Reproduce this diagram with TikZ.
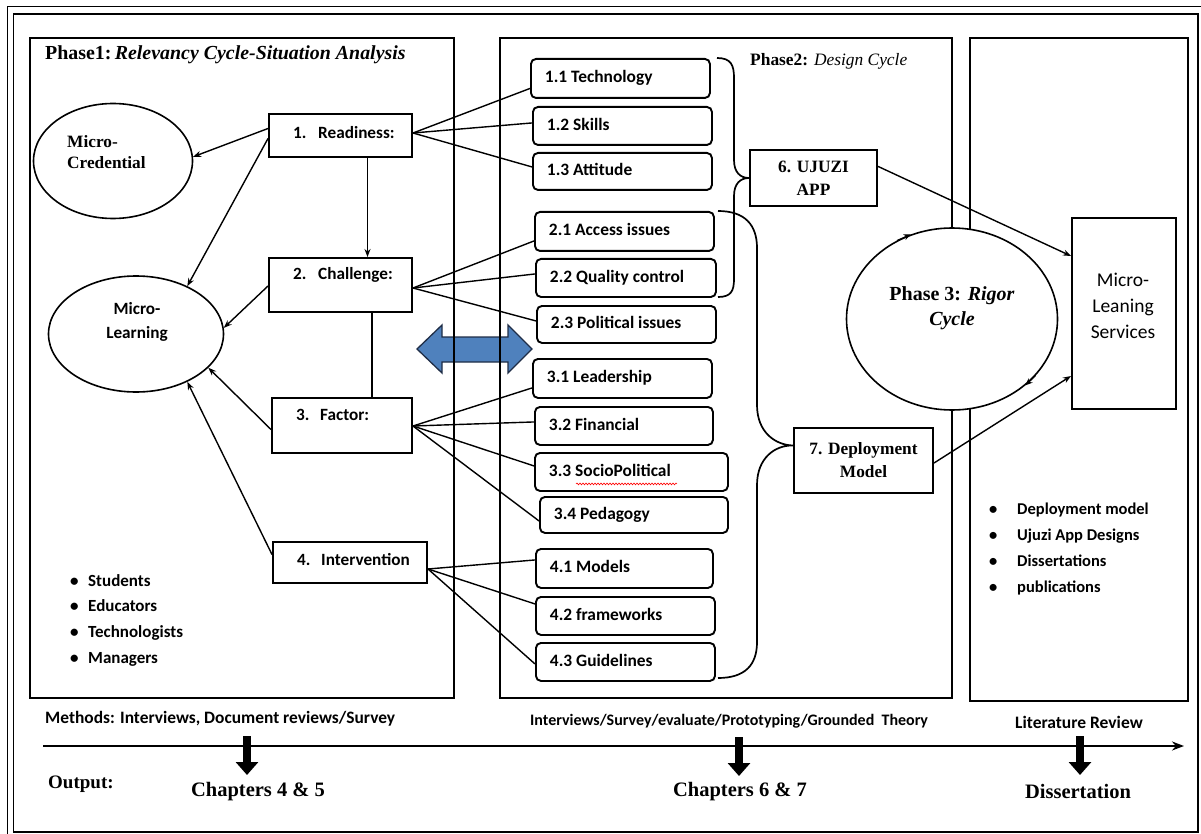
\documentclass[tikz,border=0pt]{standalone}
\usepackage{fontspec}
\setmainfont{Liberation Serif}
\newfontfamily\calib{Carlito}
\usetikzlibrary{arrows.meta,calc,shapes.geometric,decorations.pathmorphing}

% rounded sub-item box: name, x, y (top left), width, height, text
\newcommand\leaf[6]{%
  \node[leafbox, anchor=north west, minimum width=#4pt, minimum height=#5pt]
    (#1) at (#2,#3) {\makebox[\dimexpr#4pt-28pt\relax][l]{#6}};}

\begin{document}
\begin{tikzpicture}[x=1pt,y=-1pt,
  phasebox/.style={draw, line width=1.8pt, rectangle, inner sep=0pt, anchor=north west},
  stagebox/.style={draw, line width=2pt, rectangle, inner sep=0pt, anchor=north west},
  stagetext/.style={anchor=west, inner sep=0pt, font=\calib\bfseries\fontsize{17.2}{20}\selectfont},
  leafbox/.style={draw, line width=1.9pt, rounded corners=5pt, rectangle,
    inner xsep=14pt, inner ysep=0pt, text height=12.5pt, text depth=4pt,
    font=\calib\bfseries\fontsize{17.4}{20}\selectfont},
  serifbox/.style={draw, line width=2pt, rectangle, inner sep=0pt, align=center,
    font=\bfseries\fontsize{17.3}{23}\selectfont},
  oval/.style={draw, line width=1.6pt, ellipse, inner sep=0pt},
  link/.style={line width=1.4pt},
  arr/.style={line width=1.4pt, -{Stealth[length=8pt,width=6pt]}},
  brace/.style={line width=1.7pt},
  bullets/.style={anchor=north west, inner sep=0pt, align=left,
    font=\calib\bfseries\fontsize{17}{25.7}\selectfont},
  bigdown/.style={line width=8pt, -{Triangle[width=22pt,length=13pt]}},
  outtext/.style={inner sep=0pt, font=\bfseries\fontsize{20.5}{24}\selectfont},
]
\useasboundingbox (0,0) rectangle (1201,834);

% outer double frame
\draw[line width=1pt] (7,834) -- (7,7) -- (1201,7);
\draw[line width=1.6pt] (13.5,14) rectangle (1198,832);

% two-way exchange arrow between phase 1 and phase 2
\draw[fill={rgb,255:red,79;green,129;blue,189}, draw={rgb,255:red,31;green,45;blue,70}, line width=1.3pt, line join=miter]
  (417,349) -- (442,325) -- (442,337) -- (508,337) -- (508,325) -- (532,349)
  -- (508,373) -- (508,362) -- (442,362) -- (442,373) -- cycle;

% phase frames
\node[phasebox, minimum width=424pt, minimum height=660pt] (p1) at (29,37) {};
\node[phasebox, minimum width=452pt, minimum height=660pt] (p2) at (499,37) {};
\node[phasebox, minimum width=218pt, minimum height=663pt] (p3) at (969,37) {};

\node[anchor=west, inner sep=0pt, font=\bfseries\fontsize{19.9}{22}\selectfont] (t1) at (45,55)
  {Phase1:\,\textit{Relevancy Cycle-Situation Analysis}};
\node[anchor=west, inner sep=0pt, font=\fontsize{17.4}{20}\selectfont] (t2) at (750,61)
  {\textbf{Phase2:} \textit{Design Cycle}};

% phase 1: ellipses
\node[oval, minimum width=159pt, minimum height=115pt] (mc) at (113,161) {};
\node[anchor=west, inner sep=0pt, align=left, font=\bfseries\fontsize{17.3}{21}\selectfont] (mct) at (67,152) {Micro-\\Credential};
\node[oval, minimum width=175pt, minimum height=116pt] (ml) at (136,334) {};
\node[inner sep=0pt, align=center, font=\calib\bfseries\fontsize{17.2}{24}\selectfont] (mlt) at (137,322) {Micro-\\Learning};

% phase 1: stages
\node[stagebox, minimum width=143pt, minimum height=43pt] (rd) at (268,113) {};
\node[stagetext] (rdt) at (293,133) {\makebox[25pt][l]{1.}Readiness:};
\node[stagebox, minimum width=143pt, minimum height=54pt] (ch) at (268,257) {};
\node[stagetext] (cht) at (293,275) {\makebox[25pt][l]{2.}Challenge:};
\node[stagebox, minimum width=140pt, minimum height=55pt] (fa) at (271,397) {};
\node[stagetext] (fat) at (296,415) {\makebox[24pt][l]{3.}Factor:};
\node[stagebox, minimum width=154pt, minimum height=41pt] (iv) at (272,541) {};
\node[stagetext] (ivt) at (297,560) {\makebox[24pt][l]{4.}Intervention};

\draw[arr] ($(rd.south)+(27,0)$) -- ($(ch.north)+(27,0)$);
\draw[link] ($(ch.south)+(31.5,0)$) -- ($(fa.north)+(30,0)$);

\draw[arr] ($(rd.west)+(0,-7)$) -- (mc.3);
\draw[arr] ($(rd.west)+(0,3)$) -- (ml.43);
\draw[arr] ($(ch.west)+(0,1)$) -- (ml.4);
\draw[arr] ($(fa.west)+(0,4)$) -- (ml.-25);
\draw[arr] ($(iv.west)+(0,-8)$) -- (ml.-43);

\node[bullets] (who) at (70,574) {%
  \makebox[18pt][l]{\textbullet}Students\\
  \makebox[18pt][l]{\textbullet}Educators\\
  \makebox[18pt][l]{\textbullet}Technologists\\
  \makebox[18pt][l]{\textbullet}Managers};

% phase 2: sub-items
\leaf{t11}{530}{58}{179}{39}{1.1 Technology}
\leaf{t12}{532}{106}{179}{38}{1.2 Skills}
\leaf{t13}{532}{152}{179}{37}{1.3 Attitude}
\leaf{t21}{534}{211}{179}{39}{2.1 Access issues}
\leaf{t22}{535}{258}{180}{38}{2.2 Quality control}
\leaf{t23}{536}{305}{179}{37}{2.3 Political issues}
\leaf{t31}{532}{358}{179}{39}{3.1 Leadership}
\leaf{t32}{534}{406}{178}{38}{3.2 Financial}
\leaf{t33}{534}{452}{193}{38}{3.3 SocioPolitical}
\leaf{t34}{539}{496}{188}{36}{3.4 Pedagogy}
\leaf{t41}{535}{548}{177}{39}{4.1 Models}
\leaf{t42}{535}{596}{179}{38}{4.2 frameworks}
\leaf{t43}{535}{642}{179}{38}{4.3 Guidelines}

\draw[red, line width=0.6pt, decorate, decoration={snake, amplitude=0.9pt, segment length=3pt}]
  ($(t33.south west)+(42,-8)$) -- ($(t33.south west)+(143,-8)$);

\draw[link] ($(rd.east)+(0,-2.5)$) -- ($(t11.west)+(0,10)$);
\draw[link] ($(rd.east)+(0,-2.5)$) -- ($(t12.west)+(0,-3)$);
\draw[link] ($(rd.east)+(0,-2.5)$) -- ($(t13.west)+(0,-4.5)$);
\draw[link] ($(ch.east)+(0,3)$) -- ($(t21.west)+(0,9.5)$);
\draw[link] ($(ch.east)+(0,3)$) -- ($(t22.west)+(0,-4)$);
\draw[link] ($(ch.east)+(0,3)$) -- ($(t23.west)+(0,-3.5)$);
\draw[link] ($(fa.east)+(0,0.5)$) -- ($(t31.west)+(0,9.5)$);
\draw[link] ($(fa.east)+(0,0.5)$) -- ($(t32.west)+(0,-4)$);
\draw[link] ($(fa.east)+(0,0.5)$) -- ($(t33.west)+(0,-6)$);
\draw[link] ($(fa.east)+(0,0.5)$) -- ($(t34.west)+(0,6)$);
\draw[link] ($(iv.east)+(0,6.5)$) -- ($(t41.west)+(0,-8.5)$);
\draw[link] ($(iv.east)+(0,6.5)$) -- ($(t42.west)+(0,-12)$);
\draw[link] ($(iv.east)+(0,6.5)$) -- ($(t43.west)+(0,2)$);

% phase 2: outcomes
\node[serifbox, minimum width=127pt, minimum height=56pt] (uj) at (813.5,178) {6. UJUZI\\APP};
\node[serifbox, minimum width=139pt, minimum height=65pt] (dm) at (863.5,460.5) {7. Deployment\\Model};

\draw[brace] (717,58) .. controls (731,58) and (734,65) .. (734,78) -- (734,160)
  .. controls (734,172) and (740,178) .. (uj.west)
  .. controls (740,178) and (734,184) .. (734,196) -- (734,279)
  .. controls (734,291) and (731,297) .. (718,297);
\draw[brace] (718,211) .. controls (745,211) and (757,225) .. (757,248) -- (757,405)
  .. controls (757,432) and (775,445) .. ($(dm.west)+(0,-15)$)
  .. controls (775,445) and (757,458) .. (757,485) -- (757,642)
  .. controls (757,665) and (745,678) .. (718,678);

% phase 3
\node[oval, fill=white, minimum width=211pt, minimum height=182pt] (ph3) at (952,319) {};
\node[inner sep=0pt, align=center, font=\bfseries\fontsize{20}{25}\selectfont] (ph3t) at (952,308)
  {Phase 3: \textit{Rigor}\\\textit{Cycle}};
\draw[line width=1pt, -{Stealth[length=7pt,width=6pt]}] (ph3.125) -- (ph3.116);
\draw[line width=1pt, -{Stealth[length=7pt,width=6pt]}] (ph3.-34) -- (ph3.-42);

\node[stagebox, anchor=center, minimum width=104pt, minimum height=191pt] (svc) at (1124,313.5) {};
\node[inner sep=0pt, align=center, font=\calib\fontsize{19.5}{26}\selectfont] (svct) at (1123,306)
  {Micro-\\Leaning\\Services};

\draw[arr] ($(uj.north east)!0.3!(uj.south east)$) -- ($(svc.north west)+(0,39)$);
\draw[arr] ($(dm.east)+(0,2.5)$) -- ($(svc.north west)+(0,159)$);

\node[bullets, font=\calib\bfseries\fontsize{16.5}{26}\selectfont] (deliv) at (989,503) {%
  \makebox[28pt][l]{\textbullet}Deployment model\\
  \makebox[28pt][l]{\textbullet}Ujuzi App Designs\\
  \makebox[28pt][l]{\textbullet}Dissertations\\
  \makebox[28pt][l]{\textbullet}publications};

% methods, time line and outputs
\node[anchor=west, inner sep=0pt, font=\calib\bfseries\fontsize{17.4}{19}\selectfont] (m1) at (45,719)
  {Methods: Interviews, Document reviews/Survey};
\node[anchor=west, inner sep=0pt, font=\calib\bfseries\fontsize{16}{18}\selectfont] (m2) at (530,721)
  {Interviews/Survey/evaluate/Prototyping/Grounded\ \ Theory};
\node[anchor=west, inner sep=0pt, font=\calib\bfseries\fontsize{17.5}{19}\selectfont] (m3) at (1015,722)
  {Literature Review};

\coordinate (tl0) at (43,746);
\coordinate (tl1) at (1184,746);
\draw[line width=2pt, -{Stealth[length=12pt,width=9pt]}] (tl0) -- (tl1);

\coordinate (d1a) at (247,736); \coordinate (d1b) at (247,775);
\coordinate (d2a) at (739,737); \coordinate (d2b) at (739,776);
\coordinate (d3a) at (1080,736); \coordinate (d3b) at (1080,775);
\draw[bigdown] (d1a) -- (d1b);
\draw[bigdown] (d2a) -- (d2b);
\draw[bigdown] (d3a) -- (d3b);

\node[anchor=west, inner sep=0pt, font=\bfseries\fontsize{19}{22}\selectfont] (outl) at (48,784) {Output:};
\node[outtext] (o1) at (258,792) {Chapters 4 \& 5};
\node[outtext] (o2) at (740,792) {Chapters 6 \& 7};
\node[outtext] (o3) at (1078,791) {Dissertation};
\end{tikzpicture}
\end{document}
